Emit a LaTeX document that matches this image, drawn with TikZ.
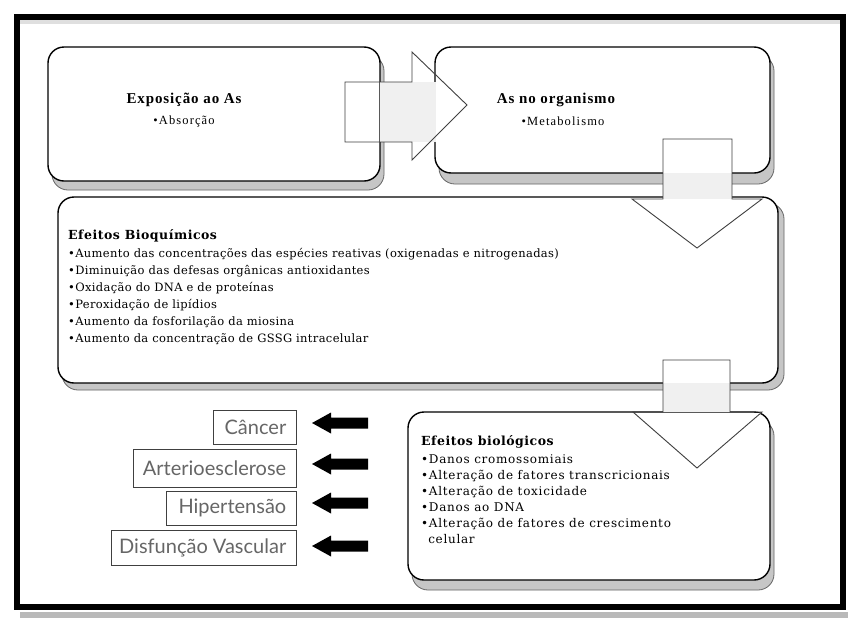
\documentclass[tikz,border=0pt]{standalone}
\usepackage{fontspec}
\setmainfont{Liberation Serif}
\newfontfamily\listfont[LetterSpace=3]{DejaVu Serif}
\newfontfamily\widelistfont[LetterSpace=6]{DejaVu Serif}
\newfontfamily\headfont[LetterSpace=4]{DejaVu Serif}
\newfontfamily\titlefont[LetterSpace=6]{Liberation Serif}
\newfontfamily\subfont[LetterSpace=9]{Liberation Serif}
\newfontfamily\labelfont{Lato}
\begin{document}
\begin{tikzpicture}[x=1pt,y=-1pt,
  stagebox/.style={draw=black, line width=1.4pt, rounded corners=16pt, fill=white},
  shadowbox/.style={fill=gray!45, draw=gray!80!black, line width=0.8pt, rounded corners=16pt},
  blockarrow/.style={draw=black!75, line width=0.9pt},
  gapfill/.style={fill=gray!12},
  effectarrow/.style={fill=black, draw=none},
  diseasebox/.style={draw=black!75, line width=0.9pt, fill=white, inner sep=0pt},
  disease/.style={font=\labelfont\fontsize{20}{20}\selectfont, text=black!60, anchor=east, inner sep=0pt},
  stagetitle/.style={font=\titlefont\fontsize{15}{17}\selectfont\bfseries, inner sep=0pt},
  stageitem/.style={font=\subfont\fontsize{12.5}{14}\selectfont, inner sep=0pt},
  heading/.style={font=\headfont\fontsize{12.5}{14}\selectfont\bfseries, anchor=west, inner sep=0pt},
  itemlist/.style={font=\listfont\fontsize{11.5}{17}\selectfont, anchor=north west, align=left, inner sep=0pt},
]
\useasboundingbox (0,0) rectangle (850,624);
\fill[white] (0,0) rectangle (850,624);

% outer frame with its shadow
\fill[gray!55] (20,612) rectangle (848,618);
\draw[black, line width=6pt] (17,17) rectangle (843,607);
\fill[gray!25] (20,20) rectangle (840,24);

% drop shadows of the stage boxes
\fill[shadowbox] (52,55) rectangle (384,190);
\fill[shadowbox] (439,55) rectangle (774,184);
\fill[shadowbox] (62,203) rectangle (784,390);
\fill[shadowbox] (412,420) rectangle (774,590);

% stage boxes
\node[stagebox, minimum width=332pt, minimum height=134pt] (expo) at (214,114) {};
\node[stagebox, minimum width=335pt, minimum height=126pt] (org) at (602.5,110) {};
\node[stagebox, minimum width=720pt, minimum height=186pt] (bioq) at (418,290) {};
\node[stagebox, minimum width=362pt, minimum height=168pt] (biol) at (589,496) {};

% block arrow from exposure to organism
\fill[gapfill] (380,82) rectangle (436,142);
\fill[white] (346,83) rectangle (379,141);
\fill[white] (437,83) -- (437,128) -- (466,105) -- cycle;
\draw[blockarrow] (345,82) -- (412,82) -- (412,52) -- (467,105) -- (412,160) -- (412,142) -- (345,142) -- cycle;

% block arrow from organism down to biochemical effects
\fill[white] (663,139) rectangle (732,173);
\fill[gapfill] (663,173) rectangle (732,199);
\fill[white] (634,200) -- (761,200) -- (697,247) -- cycle;
\draw[blockarrow] (663,139) -- (732,139) -- (732,199) -- (762,199) -- (697,248) -- (632,199) -- (663,199) -- cycle;

% block arrow from biochemical down to biological effects
\fill[white] (663,360) rectangle (730,383);
\fill[gapfill] (663,383) rectangle (730,412);
\fill[white] (635,413) -- (761,413) -- (697,467) -- cycle;
\draw[blockarrow] (663,360) -- (730,360) -- (730,412) -- (762,412) -- (697,468) -- (633,412) -- (663,412) -- cycle;

% texts of the upper boxes
\node[stagetitle] (expot) at (184,100) {Exposição ao As};
\node[stageitem] (expoi) at (184,121) {•Absorção};
\node[stagetitle] (orgt) at (556,100) {As no organismo};
\node[stageitem] (orgi) at (563,121) {•Metabolismo};

% biochemical effects
\node[heading] (bioqt) at (68,236) {Efeitos Bioquímicos};
\node[itemlist] (bioqi) at (68,248) {•Aumento das concentrações das espécies reativas (oxigenadas e nitrogenadas)\\
•Diminuição das defesas orgânicas antioxidantes\\
•Oxidação do DNA e de proteínas\\
•Peroxidação de lipídios\\
•Aumento da fosforilação da miosina\\
•Aumento da concentração de GSSG intracelular};

% biological effects
\node[heading] (biolt) at (421,442) {Efeitos biológicos};
\node[itemlist, font=\widelistfont\fontsize{12}{16}\selectfont] (bioli) at (421,454) {•Danos cromossomiais\\
•Alteração de fatores transcricionais\\
•Alteração de toxicidade\\
•Danos ao DNA\\
•Alteração de fatores de crescimento\\
\hphantom{•}celular};

% resulting diseases
\node[diseasebox, minimum width=83pt, minimum height=34pt] (cancer) at (254.5,427) {};
\node[disease] at ([xshift=-10pt]cancer.east) {Câncer};
\node[diseasebox, minimum width=163pt, minimum height=38pt] (arterio) at (214.5,468) {};
\node[disease] at ([xshift=-10pt]arterio.east) {Arterioesclerose};
\node[diseasebox, minimum width=130pt, minimum height=34pt] (hiper) at (231,508) {};
\node[disease] at ([xshift=-10pt]hiper.east) {Hipertensão};
\node[diseasebox, minimum width=185pt, minimum height=35pt] (disf) at (203.5,547.5) {};
\node[disease] at ([xshift=-10pt]disf.east) {Disfunção Vascular};

% black arrows pointing to the diseases
\foreach \yy in {423, 464, 503, 546}{
  \fill[effectarrow] (368,\yy-5.5) -- (331,\yy-5.5) -- (331,\yy-10.5) -- (312,\yy) -- (331,\yy+10.5) -- (331,\yy+5.5) -- (368,\yy+5.5) -- cycle;
}
\end{tikzpicture}
\end{document}
